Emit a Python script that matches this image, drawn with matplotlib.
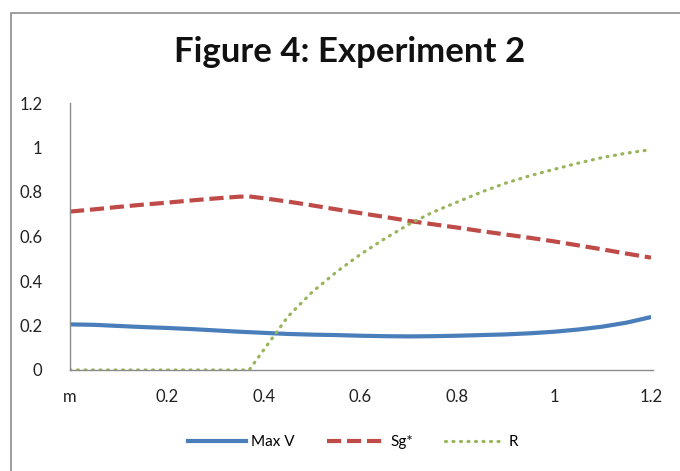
import matplotlib.pyplot as plt
from matplotlib.patches import Rectangle
from matplotlib.lines import Line2D

plt.rcParams['font.family'] = ['Lato', 'DejaVu Sans']

title = "Figure 4: Experiment 2"
x_ticks = [0, 0.2, 0.4, 0.6, 0.8, 1.0, 1.2]
x_tick_labels = ["m", "0.2", "0.4", "0.6", "0.8", "1", "1.2"]
y_ticks = [0, 0.2, 0.4, 0.6, 0.8, 1.0, 1.2]
y_tick_labels = ["0", "0.2", "0.4", "0.6", "0.8", "1", "1.2"]

m = [0.0, 0.05, 0.1, 0.15, 0.2, 0.25, 0.3, 0.35, 0.37, 0.4, 0.45, 0.5, 0.55,
     0.6, 0.65, 0.7, 0.75, 0.8, 0.85, 0.9, 0.95, 1.0, 1.05, 1.1, 1.15, 1.2]
max_v = [0.205, 0.203, 0.198, 0.193, 0.189, 0.184, 0.178, 0.172, 0.170, 0.167,
         0.162, 0.159, 0.157, 0.154, 0.152, 0.151, 0.152, 0.154, 0.157, 0.160,
         0.165, 0.172, 0.182, 0.195, 0.213, 0.238]
sg = [0.712, 0.722, 0.733, 0.743, 0.752, 0.762, 0.771, 0.779, 0.780, 0.772,
      0.757, 0.740, 0.722, 0.705, 0.688, 0.670, 0.655, 0.640, 0.624, 0.609,
      0.594, 0.578, 0.560, 0.542, 0.523, 0.505]
r = [0.0, 0.0, 0.0, 0.0, 0.0, 0.0, 0.0, 0.0, 0.0, 0.09,
     0.24, 0.35, 0.44, 0.52, 0.59, 0.655, 0.71, 0.755, 0.80, 0.84,
     0.873, 0.902, 0.930, 0.955, 0.975, 0.99]

BLUE, RED, GREEN = '#4a7ebb', '#be4b48', '#98b55a'
SG_DASH = (0, (3.4, 1.4))
R_DOTS = (0, (0.3, 2.05))

fig = plt.figure(figsize=(6.8, 4.71), dpi=100)
W, H = 680, 471

# chart frame
fig.patches.append(Rectangle((11 / W, -0.05), 1.1, 1 - 13 / H + 0.05,
                             transform=fig.transFigure, fill=False,
                             edgecolor='#8c8c8c', linewidth=1.2))

ax = fig.add_axes([70 / W, 1 - 370 / H, (651 - 70) / W, (370 - 103) / H])
ax.plot(m, max_v, color=BLUE, linewidth=3.0, solid_capstyle='round')
ax.plot(m, sg, color=RED, linewidth=3.0, linestyle=SG_DASH)
ax.plot(m, r, color=GREEN, linewidth=2.3, linestyle=R_DOTS,
        dash_capstyle='round')

ax.set_xlim(0, 1.2)
ax.set_ylim(0, 1.2)
ax.set_xticks(x_ticks)
ax.set_xticklabels(x_tick_labels)
ax.set_yticks(y_ticks)
ax.set_yticklabels(y_tick_labels)
ax.tick_params(length=0, labelsize=12, colors='#222222')
ax.tick_params(axis='x', pad=14)
ax.tick_params(axis='y', pad=20)
for lab in ax.get_yticklabels():
    lab.set_horizontalalignment('right')
for s in ['top', 'right']:
    ax.spines[s].set_visible(False)
for s in ['left', 'bottom']:
    ax.spines[s].set_color('#8c8c8c')
    ax.spines[s].set_linewidth(1.0)
ax.spines['bottom'].set_bounds(0, 1.205)

fig.text(350 / W, 1 - 52 / H, title, ha='center', va='center',
         fontsize=25, fontweight='bold', color='#111111')

handles = [
    Line2D([], [], color=BLUE, linewidth=3.0),
    Line2D([], [], color=RED, linewidth=3.0, linestyle=SG_DASH),
    Line2D([], [], color=GREEN, linewidth=2.3, linestyle=R_DOTS,
           dash_capstyle='round'),
]
fig.legend(handles, ["Max V", "Sg*", "R"], loc='center',
           bbox_to_anchor=(353 / W, 1 - 442 / H), ncol=3, frameon=False,
           fontsize=11, handlelength=3.8, handletextpad=0.35,
           columnspacing=2.1)

fig.savefig('out.png', dpi=100)
